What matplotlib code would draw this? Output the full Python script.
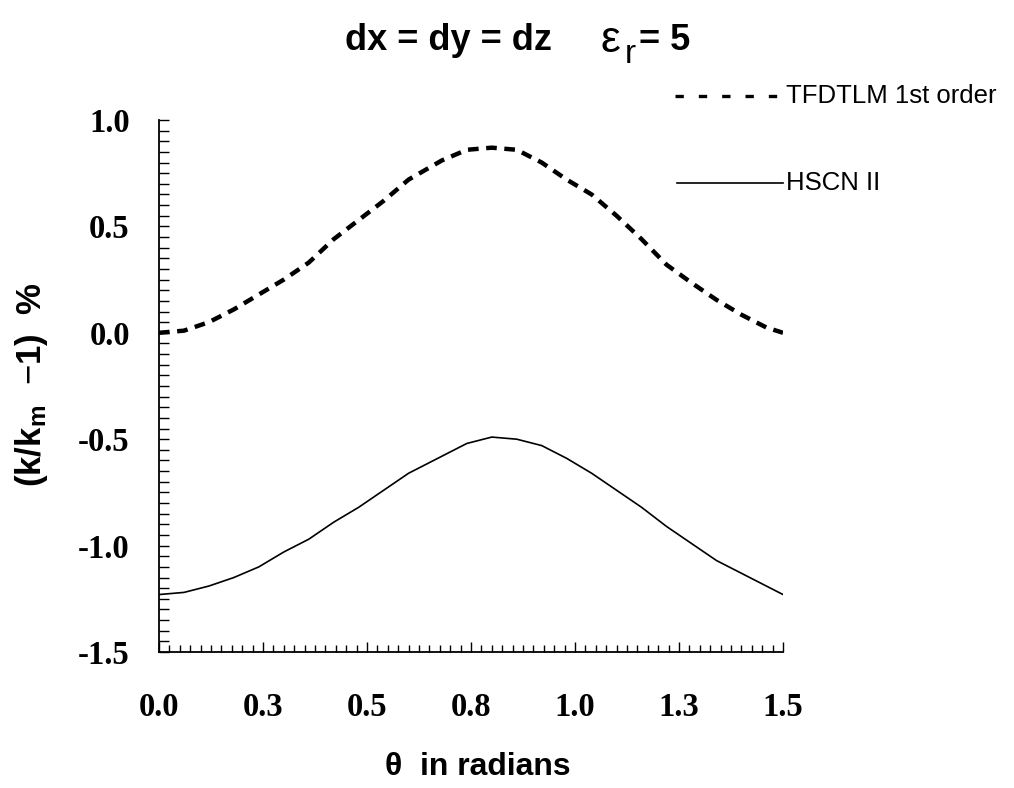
import matplotlib
matplotlib.use("Agg")
import matplotlib.pyplot as plt
from matplotlib.lines import Line2D
from matplotlib.ticker import MultipleLocator

plt.rcParams["mathtext.fontset"] = "custom"
plt.rcParams["mathtext.rm"] = "Liberation Sans"
plt.rcParams["mathtext.it"] = "Liberation Sans"

# angle (radians) and relative wavenumber error (%)
theta = [0.00, 0.06, 0.12, 0.18, 0.24, 0.30, 0.36, 0.42, 0.48, 0.54, 0.60,
         0.68, 0.74, 0.80, 0.86, 0.92, 0.98, 1.04, 1.10, 1.16, 1.22, 1.28,
         1.34, 1.40, 1.46, 1.50]
tfdtlm = [0.00, 0.01, 0.05, 0.11, 0.18, 0.25, 0.33, 0.44, 0.53, 0.62, 0.72,
          0.81, 0.86, 0.87, 0.86, 0.80, 0.72, 0.65, 0.55, 0.44, 0.32, 0.235,
          0.155, 0.085, 0.025, 0.00]
hscn = [-1.23, -1.22, -1.19, -1.15, -1.10, -1.03, -0.97, -0.89, -0.82, -0.74,
        -0.66, -0.58, -0.52, -0.49, -0.50, -0.53, -0.59, -0.66, -0.74, -0.82,
        -0.91, -0.99, -1.07, -1.13, -1.19, -1.23]

x_ticks = [0.0, 0.25, 0.5, 0.75, 1.0, 1.25, 1.5]
x_labels = ["0.0", "0.3", "0.5", "0.8", "1.0", "1.3", "1.5"]
y_ticks = [1.0, 0.5, 0.0, -0.5, -1.0, -1.5]
y_labels = ["1.0", "0.5", "0.0", "-0.5", "-1.0", "-1.5"]

W, H = 1014, 788


def fx(px):
    return px / W


def fy(py):
    return 1 - py / H


fig = plt.figure(figsize=(W / 100, H / 100), dpi=100)
ax = fig.add_axes([fx(159), fy(652), (783 - 159) / W, (652 - 120) / H])

ax.plot(theta, tfdtlm, color="black", lw=3.2, dashes=(2.4, 1.7),
        solid_capstyle="butt", dash_capstyle="butt")
ax.plot(theta, hscn, color="black", lw=1.2)

ax.set_xlim(0, 1.5)
ax.set_ylim(-1.5, 1.0)
for s in ("top", "right"):
    ax.spines[s].set_visible(False)
for s in ("left", "bottom"):
    ax.spines[s].set_linewidth(1.3)

ax.set_xticks(x_ticks)
ax.set_xticklabels(x_labels)
ax.set_yticks(y_ticks)
ax.set_yticklabels(y_labels)
ax.xaxis.set_minor_locator(MultipleLocator(0.025))
ax.yaxis.set_minor_locator(MultipleLocator(0.05))
ax.tick_params(axis="x", which="major", direction="in", length=7, width=1, pad=29)
ax.tick_params(axis="x", which="minor", direction="in", length=5, width=1)
ax.tick_params(axis="y", which="both", direction="in", length=7, width=1, pad=21)
for lab in ax.get_xticklabels() + ax.get_yticklabels():
    lab.set_fontfamily("Liberation Serif")
    lab.set_fontweight("bold")
    lab.set_fontsize(23.5)

# title, built in pieces so epsilon and its subscript can be sized separately
sans = "Liberation Sans"
fig.text(fx(552), fy(50), "dx = dy = dz", ha="right", va="baseline",
         fontsize=26, fontweight="bold", family=sans)
fig.text(fx(601), fy(52), "\u03b5", ha="left", va="baseline",
         fontsize=32, family=sans)
fig.text(fx(625), fy(63), "r", ha="left", va="baseline",
         fontsize=24, family=sans)
fig.text(fx(639), fy(50), "= 5", ha="left", va="baseline",
         fontsize=26, fontweight="bold", family=sans)

fig.text(fx(478), fy(767), "\u03b8  in radians", ha="center", va="center",
         fontsize=23, fontweight="bold", family=sans)
fig.text(fx(32), fy(385), r"(k/k$_{\mathregular{m}}$  $-$1)  %", rotation=90,
         ha="center", va="center", fontsize=25, fontweight="bold",
         family=sans)

# legend entries beside the plot
fig.add_artist(Line2D([fx(675), fx(783)], [fy(96), fy(96)], transform=fig.transFigure,
                      color="black", lw=2.4, dashes=(2.5, 4.5)))
fig.text(fx(786), fy(96), "TFDTLM 1st order", ha="left", va="center",
         fontsize=18.5, family=sans)
fig.add_artist(Line2D([fx(677), fx(783)], [fy(183), fy(183)], transform=fig.transFigure,
                      color="black", lw=1.2))
fig.text(fx(786), fy(183), "HSCN II", ha="left", va="center",
         fontsize=18.5, family=sans)

fig.savefig("out.png", dpi=100)
